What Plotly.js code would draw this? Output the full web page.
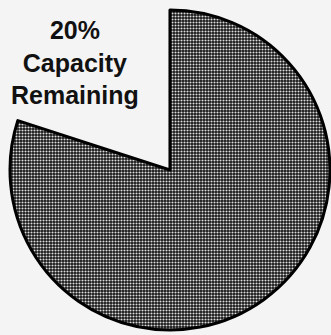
<!DOCTYPE html>
<html>
<head>
<meta charset="utf-8">
<script src="https://cdn.plot.ly/plotly-3.0.1.min.js"></script>
<style>html,body{margin:0;padding:0;background:#f4f4f4;}</style>
</head>
<body>
<div id="chart" style="width:331px;height:335px;"></div>
<script>
var labels = ["Capacity Remaining", "Capacity Used"];
var values = [20, 80];
var labelText = "20%<br>Capacity<br>Remaining";

var trace = {
  type: "pie",
  labels: labels,
  values: values,
  sort: false,
  direction: "clockwise",
  rotation: -72,
  textinfo: "none",
  hoverinfo: "label+percent",
  marker: {
    colors: ["#f4f4f4", "#3a3a3a"],
    line: { color: ["rgba(0,0,0,0)", "#000000"], width: [0, 3] },
    pattern: { shape: ["", "."], fgcolor: ["#f4f4f4", "#dcdcdc"], bgcolor: ["#f4f4f4", "#151515"], size: 3, solidity: 0.4 }
  },
  domain: { x: [0.03, 0.997], y: [0.015, 0.97] },
  showlegend: false
};

var layout = {
  width: 331, height: 335,
  margin: { l: 0, r: 0, t: 0, b: 0 },
  paper_bgcolor: "#f4f4f4",
  plot_bgcolor: "#f4f4f4",
  showlegend: false,
  annotations: [{
    xref: "paper", yref: "paper",
    x: 75 / 331, y: 1 - 62 / 335,
    xanchor: "center", yanchor: "middle",
    text: "<b>" + labelText + "</b>",
    showarrow: false,
    align: "center",
    font: { family: "Liberation Sans, Arial, sans-serif", size: 25, color: "#111" }
  }]
};

Plotly.newPlot("chart", [trace], layout, { displayModeBar: false, staticPlot: true });
</script>
</body>
</html>
